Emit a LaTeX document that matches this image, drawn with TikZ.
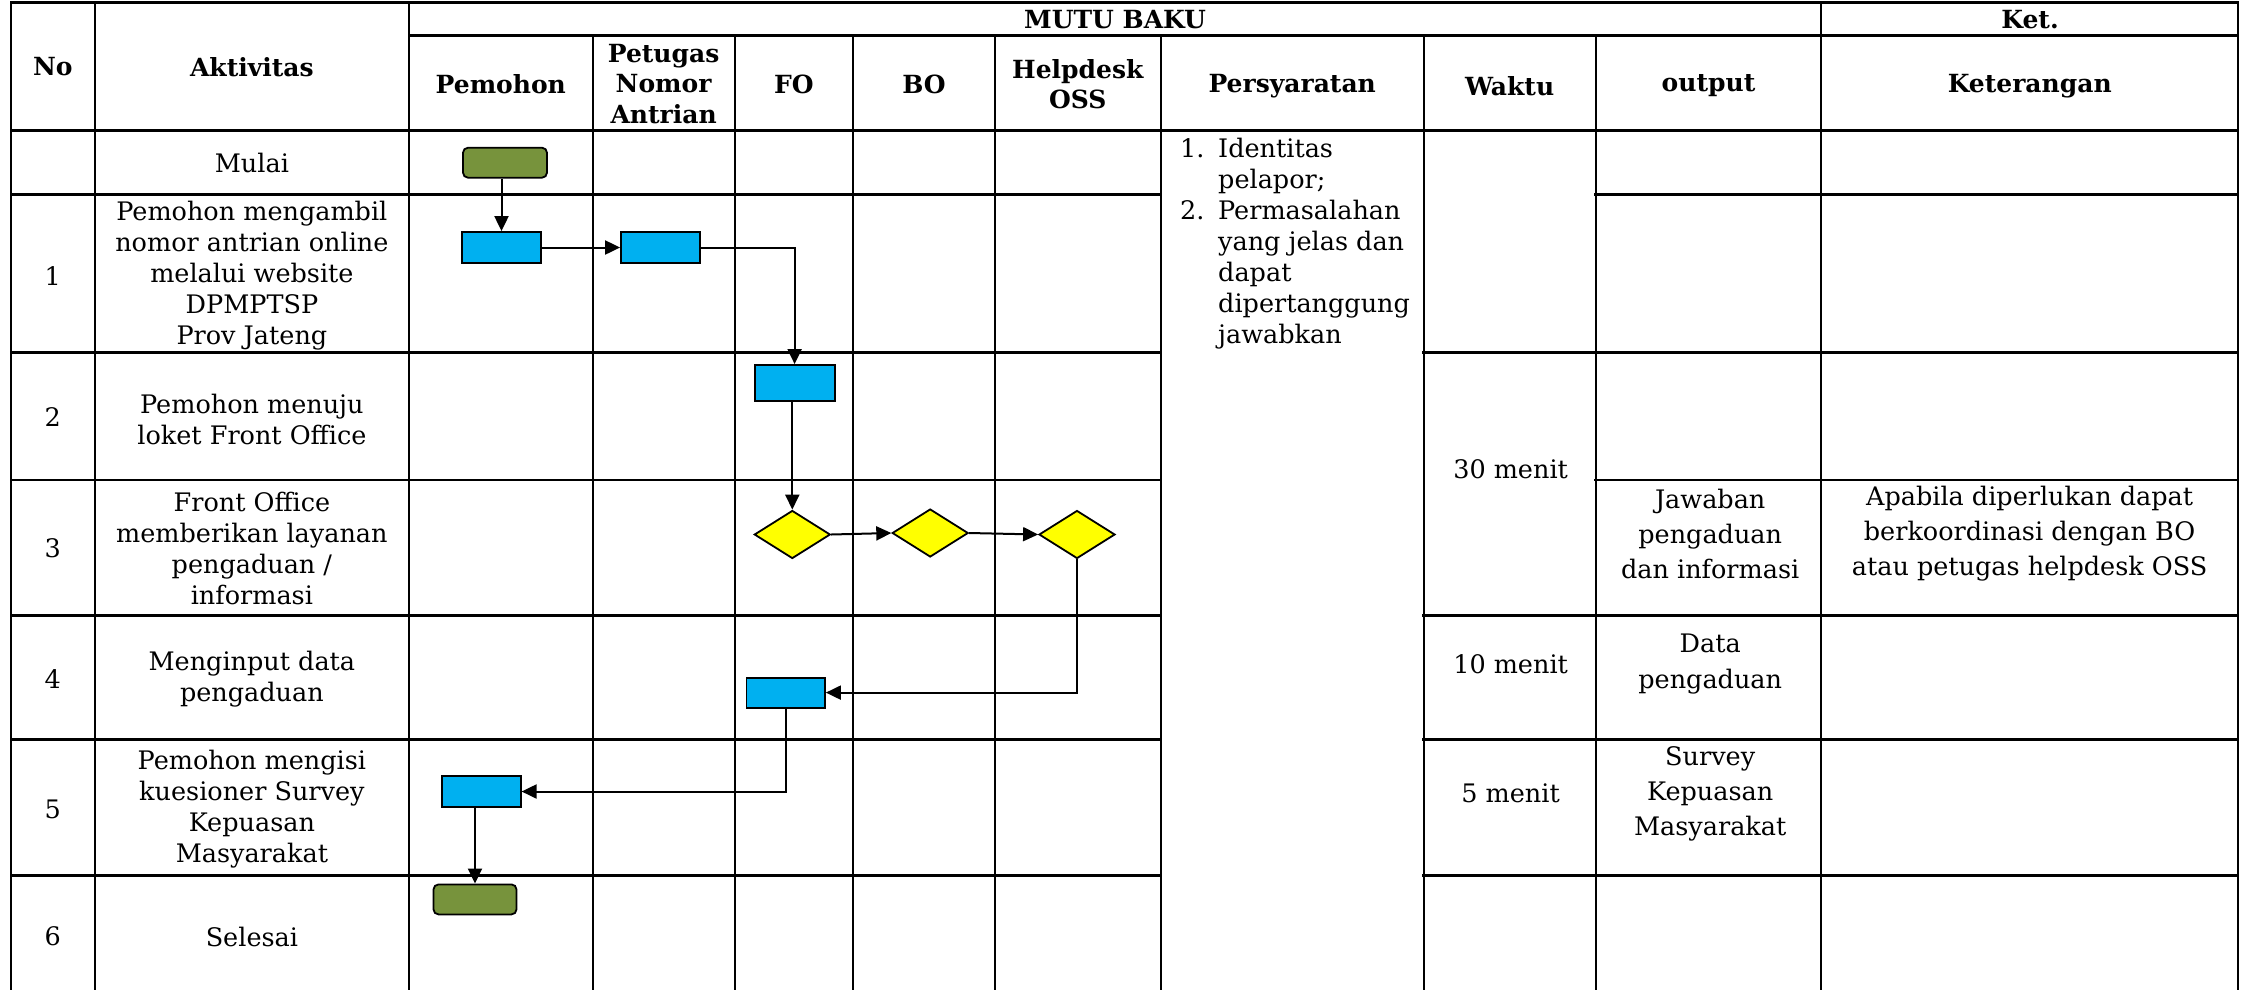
\documentclass[tikz,border=0pt]{standalone}
\usepackage{fontspec}
\setmainfont{DejaVu Serif}
\usetikzlibrary{arrows.meta,shapes.geometric}
\definecolor{fblue}{HTML}{00B0F0}
\definecolor{fgreen}{HTML}{77933C}
\definecolor{fyellow}{HTML}{FFFF00}
\tikzset{
  hl/.style={line width=2.8pt, line cap=rect},
  vl/.style={line width=2pt, line cap=rect},
  txt/.style={inner sep=0pt, align=center, font=\fontsize{25.5}{31}\selectfont},
  hd/.style={inner sep=0pt, align=center, font=\fontsize{25}{30.5}\selectfont\bfseries},
  wtxt/.style={inner sep=0pt, align=center, font=\fontsize{25.5}{35.2}\selectfont},
  flowbox/.style={draw, line width=1.8pt, fill=fblue, inner sep=0pt, minimum width=79pt, minimum height=31pt},
  term/.style={flowbox, fill=fgreen, rounded corners=5pt},
  dec/.style={diamond, draw, line width=1.8pt, fill=fyellow, inner sep=0pt, minimum width=76pt, minimum height=48pt},
  arr/.style={line width=2pt, -{Triangle[length=15pt,width=14pt]}},
}
\begin{document}
\begin{tikzpicture}[x=1pt,y=-1pt]
\useasboundingbox (0,0) rectangle (2246,989);
% ---------- grid ----------
\draw[hl] (11,2.7) -- (2238,2.7);
\draw[hl] (409,35.7) -- (2238,35.7);
\draw[hl] (11,130.7) -- (2238,130.7);
\draw[vl] (11,2.7) -- (11,989);
\draw[vl] (2238,2.7) -- (2238,989);
\foreach \x in {94.7,409,1821.4} \draw[vl] (\x,2.7) -- (\x,989);
\foreach \x in {592.6,734.6,853,995,1160.7,1423.8,1595.5} \draw[vl] (\x,35.7) -- (\x,989);
\draw[hl] (11,194.3) -- (1160.7,194.3);
\draw[hl] (1595.5,194.3) -- (2238,194.3);
\draw[hl] (11,352.3) -- (1160.7,352.3);
\draw[hl] (1423.8,352.3) -- (2238,352.3);
\draw[hl] (11,480) -- (1160.7,480);
\draw[hl] (1595.5,480) -- (2238,480);
\foreach \y in {615.2,739.8,875.6} {
  \draw[hl] (11,\y) -- (1160.7,\y);
  \draw[hl] (1423.8,\y) -- (2238,\y);
}
% ---------- headers ----------
\node[hd] (hNo) at (52.8,67) {No};
\node[hd] (hAkt) at (251.9,67) {Aktivitas};
\node[hd] (hMutu) at (1115,20) {MUTU BAKU};
\node[hd] (hKet) at (2030,20) {Ket.};
\node[hd] (hPem) at (500.8,84) {Pemohon};
\node[hd] (hPet) at (663.6,84) {Petugas\\Nomor\\Antrian};
\node[hd] (hFO) at (794,84) {FO};
\node[hd] (hBO) at (924,84) {BO};
\node[hd] (hHelp) at (1077.8,84) {Helpdesk\\OSS};
\node[hd] (hPers) at (1292.2,86) {Persyaratan};
\node[hd] (hWak) at (1509.6,86) {Waktu};
\node[hd] (hOut) at (1708.5,86) {output};
\node[hd] (hKeter) at (2029.7,86) {Keterangan};
% ---------- numbers ----------
\node[txt] (n1) at (52.8,276) {1};
\node[txt] (n2) at (52.8,417) {2};
\node[txt] (n3) at (52.8,548) {3};
\node[txt] (n4) at (52.8,679) {4};
\node[txt] (n5) at (52.8,809) {5};
\node[txt] (n6) at (52.8,936) {6};
% ---------- activities ----------
\node[txt] (a0) at (251.9,162.5) {Mulai};
\node[txt] (a1) at (251.9,275.5) {Pemohon mengambil\\nomor antrian online\\melalui website\\DPMPTSP\\Prov Jateng};
\node[txt] (a2) at (251.9,419) {Pemohon menuju\\loket Front Office};
\node[txt] (a3) at (251.9,548) {Front Office\\memberikan layanan\\pengaduan /\\informasi};
\node[txt] (a4) at (251.9,679.5) {Menginput data\\pengaduan};
\node[txt] (a5) at (251.9,809.6) {Pemohon mengisi\\kuesioner Survey\\Kepuasan\\Masyarakat};
\node[txt] (a6) at (251.9,936.7) {Selesai};
% ---------- persyaratan ----------
\node[txt, align=left, anchor=north west] (pers) at (1180,138) {\makebox[38pt][l]{1.}Identitas\\\hspace*{38pt}pelapor;\\\makebox[38pt][l]{2.}Permasalahan\\\hspace*{38pt}yang jelas dan\\\hspace*{38pt}dapat\\\hspace*{38pt}dipertanggung\\\hspace*{38pt}jawabkan};
% ---------- waktu ----------
\node[txt] (w1) at (1510.6,469.6) {30 menit};
\node[txt] (w2) at (1510.6,664) {10 menit};
\node[txt] (w3) at (1510.6,793.2) {5 menit};
% ---------- output ----------
\node[wtxt] (o3) at (1710.2,533.7) {Jawaban\\pengaduan\\dan informasi};
\node[wtxt] (o4) at (1710.2,664.1) {Data\\pengaduan};
\node[wtxt] (o5) at (1710.2,793.6) {Survey\\Kepuasan\\Masyarakat};
% ---------- keterangan ----------
\node[wtxt] (k3) at (2029.6,533.7) {Apabila diperlukan dapat\\berkoordinasi dengan BO\\atau petugas helpdesk OSS};
% ---------- flow shapes ----------
\node[term, minimum width=84pt, minimum height=30pt] (start) at (505,162.7) {};
\node[flowbox] (b1) at (501.5,247.5) {};
\node[flowbox] (b2) at (660.5,247.5) {};
\node[flowbox, minimum width=80pt, minimum height=36pt] (b3) at (794.6,383) {};
\node[dec] (d1) at (792.3,534.5) {};
\node[dec] (d2) at (930.2,533) {};
\node[dec] (d3) at (1077,534.5) {};
\node[flowbox, minimum width=78.5pt, minimum height=30pt] (b4) at (785.7,692.6) {};
\node[flowbox] (b5) at (481.2,791.5) {};
\node[term, minimum width=83pt, minimum height=30pt] (stop) at (475,899.4) {};
% ---------- connectors ----------
\draw[arr] (b1.north |- start.south) -- (b1.north);
\draw[arr] (b1.east) -- (b2.west);
\draw[arr] (b2.east) -| (b3.north);
\draw[arr] (d1.north |- b3.south) -- (d1.north);
\draw[arr] (d1.east) -- (d2.west);
\draw[arr] (d2.east) -- (d3.west);
\draw[arr] (d3.south) |- (b4.east);
\draw[arr] (b4.south) |- (b5.east);
\draw[arr] (stop.north |- b5.south) -- (stop.north);
\end{tikzpicture}
\end{document}
